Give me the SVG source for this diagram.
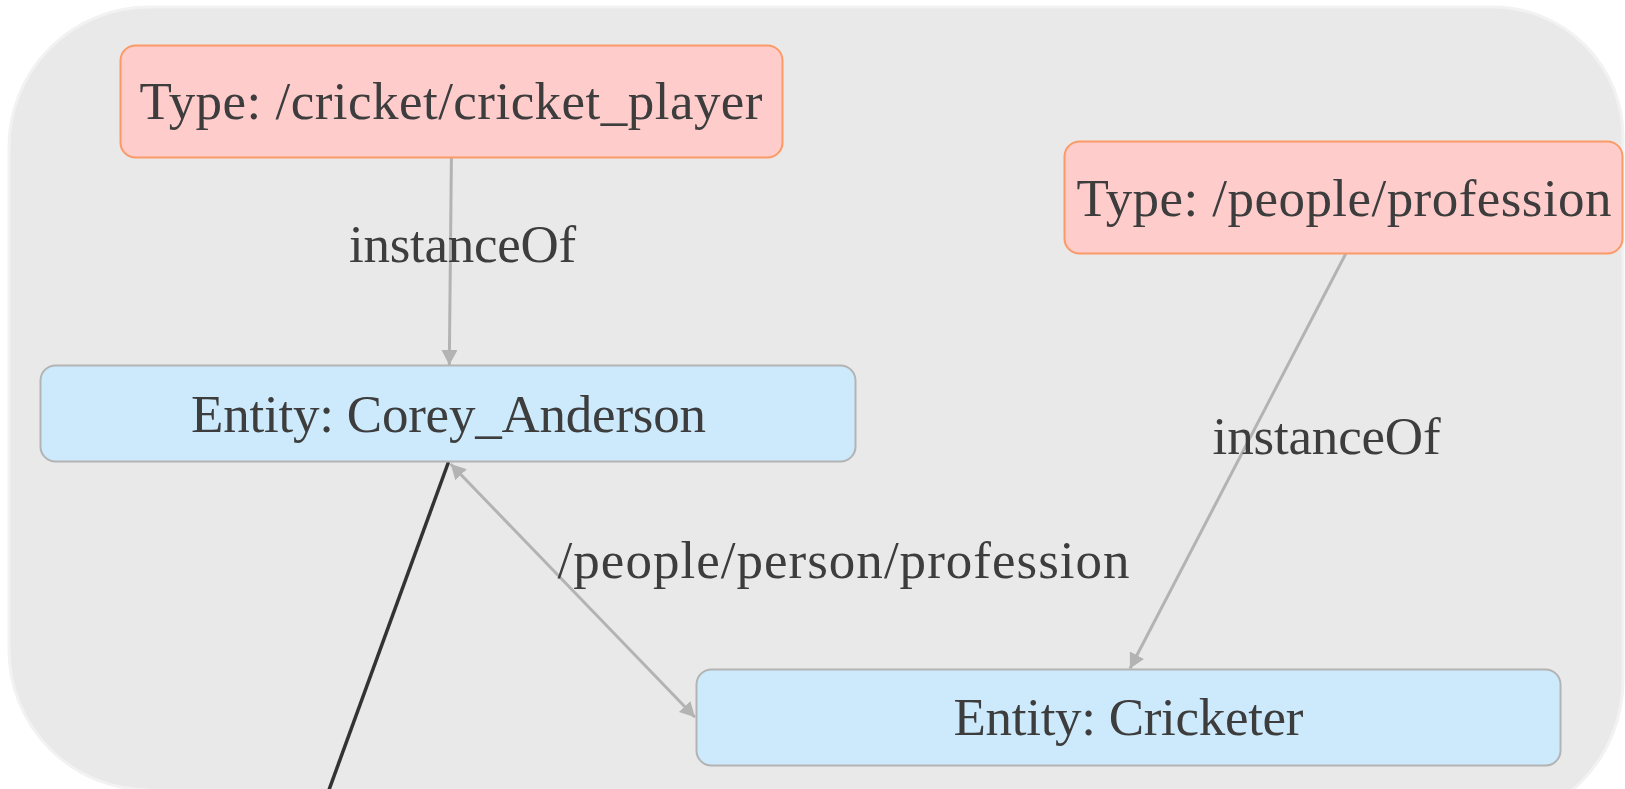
<svg xmlns="http://www.w3.org/2000/svg" width="1625" height="789" viewBox="0 0 1625 789">
  <style>
    .label { font-family: "Liberation Serif", "Times New Roman", serif; font-size: 53px; fill: #3d3d3d; text-anchor: middle; }
    .type rect { fill: #ffcccc; stroke: #fb9a66; stroke-width: 2; }
    .entity rect { fill: #cceafc; stroke: #b3b3b3; stroke-width: 2; }
    .edge { stroke: #b3b3b3; stroke-width: 3; fill: none; }
    .strong { stroke: #333333; stroke-width: 3.5; fill: none; }
  </style>
  <defs>
    <marker id="arrow" viewBox="0 0 15 16" refX="15" refY="8" markerWidth="15" markerHeight="16" markerUnits="userSpaceOnUse" orient="auto-start-reverse">
      <path d="M0,0 L15,8 L0,16 Z" fill="#b3b3b3"/>
    </marker>
  </defs>

  <rect width="1625" height="789" fill="#ffffff"/>
  <!-- canvas panel -->
  <path id="panel" d="M149,7 H1493 A130,130 0 0 1 1623,137 V680 A145,145 0 0 1 1478,825 H149 V790 A140,140 0 0 1 9,650 V147 A140,140 0 0 1 149,7 Z" fill="#e9e9e9" stroke="#f2f2f2" stroke-width="3"/>

  <g id="connectors">
    <line class="strong" x1="448.5" y1="462" x2="318" y2="820"/>
    <line class="edge" x1="451.4" y1="158" x2="449.3" y2="365" marker-end="url(#arrow)"/>
    <line class="edge" x1="1345.6" y1="254" x2="1130" y2="668.5" marker-end="url(#arrow)"/>
    <line class="edge" x1="450.7" y1="464" x2="695" y2="717.3" marker-start="url(#arrow)" marker-end="url(#arrow)"/>
    <text class="label" x="462.6" y="262" textLength="227">instanceOf</text>
    <text class="label" x="1326.6" y="454" textLength="228">instanceOf</text>
    <text class="label" x="843.6" y="578" textLength="572">/people/person/profession</text>
  </g>

  <g id="type-cricket-player" class="type">
    <rect x="120.5" y="45.5" width="662" height="112" rx="15"/>
    <text class="label" x="451" y="119" textLength="623">Type: /cricket/cricket_player</text>
  </g>
  <g id="type-people-profession" class="type">
    <rect x="1064.5" y="141.5" width="558" height="112" rx="15"/>
    <text class="label" x="1344" y="216" textLength="535">Type: /people/profession</text>
  </g>
  <g id="entity-corey-anderson" class="entity">
    <rect x="40.5" y="365.5" width="815" height="96" rx="15"/>
    <text class="label" x="448.5" y="432" textLength="515">Entity: Corey_Anderson</text>
  </g>
  <g id="entity-cricketer" class="entity">
    <rect x="696.5" y="669.5" width="864" height="96" rx="15"/>
    <text class="label" x="1128.5" y="735" textLength="350">Entity: Cricketer</text>
  </g>
</svg>
